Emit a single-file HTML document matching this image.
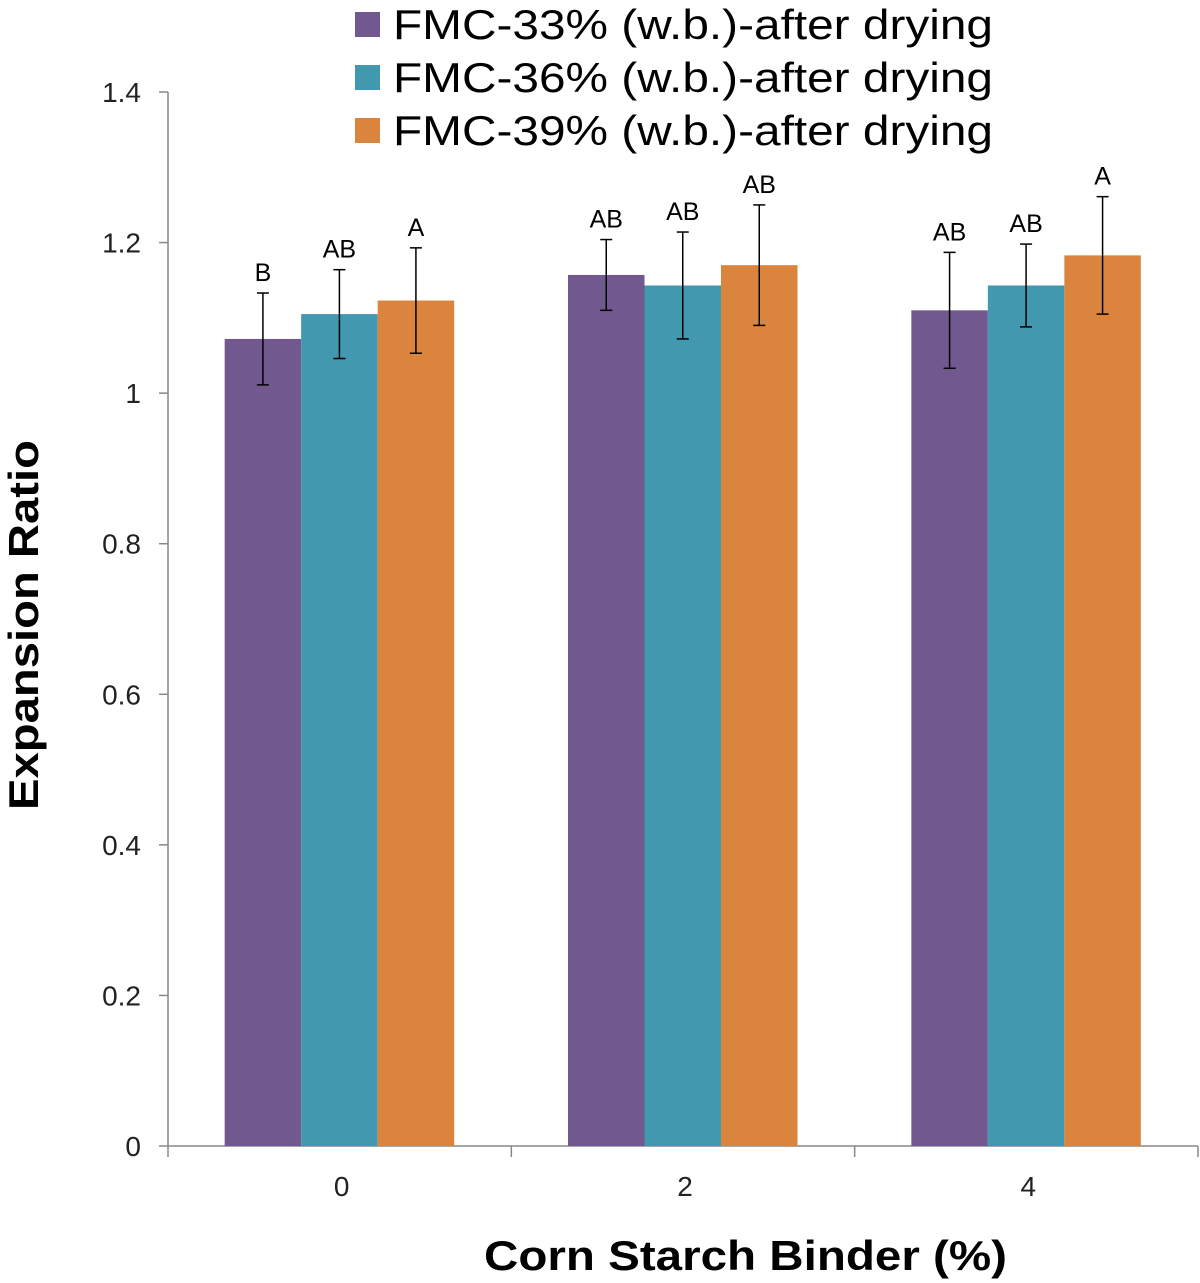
<!DOCTYPE html>
<html><head><meta charset="utf-8"><style>
body{margin:0;background:#fff}
svg{display:block;font-family:"Liberation Sans",Arial,sans-serif}
</style></head><body>
<svg id="chart" width="1200" height="1283" xmlns="http://www.w3.org/2000/svg">
<g id="axes"></g><g id="bars"></g><g id="legend"></g>
<text x="484" y="1270" textLength="523" lengthAdjust="spacingAndGlyphs" font-size="42" font-weight="bold">Corn Starch Binder (%)</text>
<text transform="translate(38,810) rotate(-90)" textLength="370" lengthAdjust="spacingAndGlyphs" font-size="42" font-weight="bold">Expansion Ratio</text>
</svg>
<script>
const categories=["0","2","4"];
const seriesNames=["FMC-33% (w.b.)-after drying","FMC-36% (w.b.)-after drying","FMC-39% (w.b.)-after drying"];
const s33=[1.072,1.157,1.110];
const s36=[1.105,1.143,1.143];
const s39=[1.123,1.170,1.183];
const e33=[0.061,0.047,0.077];
const e36=[0.059,0.071,0.055];
const e39=[0.070,0.080,0.078];
const l33=["B","AB","AB"];
const l36=["AB","AB","AB"];
const l39=["A","AB","A"];
const yTicks=["0","0.2","0.4","0.6","0.8","1","1.2","1.4"];
const colors=["#71588f","#4198af","#db843d"];
const NS="http://www.w3.org/2000/svg";
const x0=168,x1=1198,yb=1146,yt=92,ymax=1.4;
const y=v=>yb-(v/ymax)*(yb-yt);
const gw=(x1-x0)/categories.length;
const bw=76.5;
function mk(tag,attrs,parent,txt){const e=document.createElementNS(NS,tag);for(const k in attrs)e.setAttribute(k,attrs[k]);if(txt!=null)e.textContent=txt;parent.appendChild(e);return e;}
const ax=document.getElementById('axes'),bg=document.getElementById('bars'),lg=document.getElementById('legend');
let a=mk('line',{x1:x0,y1:yt,x2:x0,y2:yb,stroke:'#888','stroke-width':1.5},ax);

a=mk('line',{x1:x0,y1:yb,x2:x1,y2:yb,stroke:'#888','stroke-width':1.5},ax);

yTicks.forEach(t=>{const yy=y(parseFloat(t));
 mk('line',{x1:x0-9,y1:yy,x2:x0,y2:yy,stroke:'#888','stroke-width':1.5},ax);
 const tx=mk('text',{x:141,y:yy+10,'text-anchor':'end','font-size':28,fill:'#222'},ax,t);
 });
for(let i=0;i<=categories.length;i++){const xx=x0+i*gw;mk('line',{x1:xx,y1:yb,x2:xx,y2:yb+11,stroke:'#888','stroke-width':1.5},ax);}
categories.forEach((c,i)=>{const tx=mk('text',{x:x0+gw*(i+0.5)+2,y:1196,'text-anchor':'middle','font-size':28,fill:'#222'},ax,c);
 });
const series=[s33,s36,s39],errs=[e33,e36,e39],labs=[l33,l36,l39];
categories.forEach((c,i)=>{const cx=x0+gw*(i+0.5);
 series.forEach((s,k)=>{const bx=cx-115+k*bw,v=s[i];
  const r=mk('rect',{x:bx,y:y(v),width:bw,height:yb-y(v),fill:colors[k]},bg);
  
  const mx=bx+bw/2,top=y(v+errs[k][i]),bot=y(v-errs[k][i]);
  mk('line',{x1:mx,y1:top,x2:mx,y2:bot,stroke:'#000','stroke-width':1.5},bg);
  mk('line',{x1:mx-6,y1:top,x2:mx+6,y2:top,stroke:'#000','stroke-width':1.5},bg);
  mk('line',{x1:mx-6,y1:bot,x2:mx+6,y2:bot,stroke:'#000','stroke-width':1.5},bg);
  const t=mk('text',{x:mx,y:top-12,'text-anchor':'middle','font-size':25,fill:'#000'},bg,labs[k][i]);
  
 });});
seriesNames.forEach((n,k)=>{const yy=24+k*53;
 const r=mk('rect',{x:355,y:yy-12,width:25,height:25,fill:colors[k]},lg);
 
 const t=mk('text',{x:393,y:yy+15,'font-size':42,fill:'#000',textLength:600,lengthAdjust:'spacingAndGlyphs'},lg,n);
 });
</script>
</body></html>
